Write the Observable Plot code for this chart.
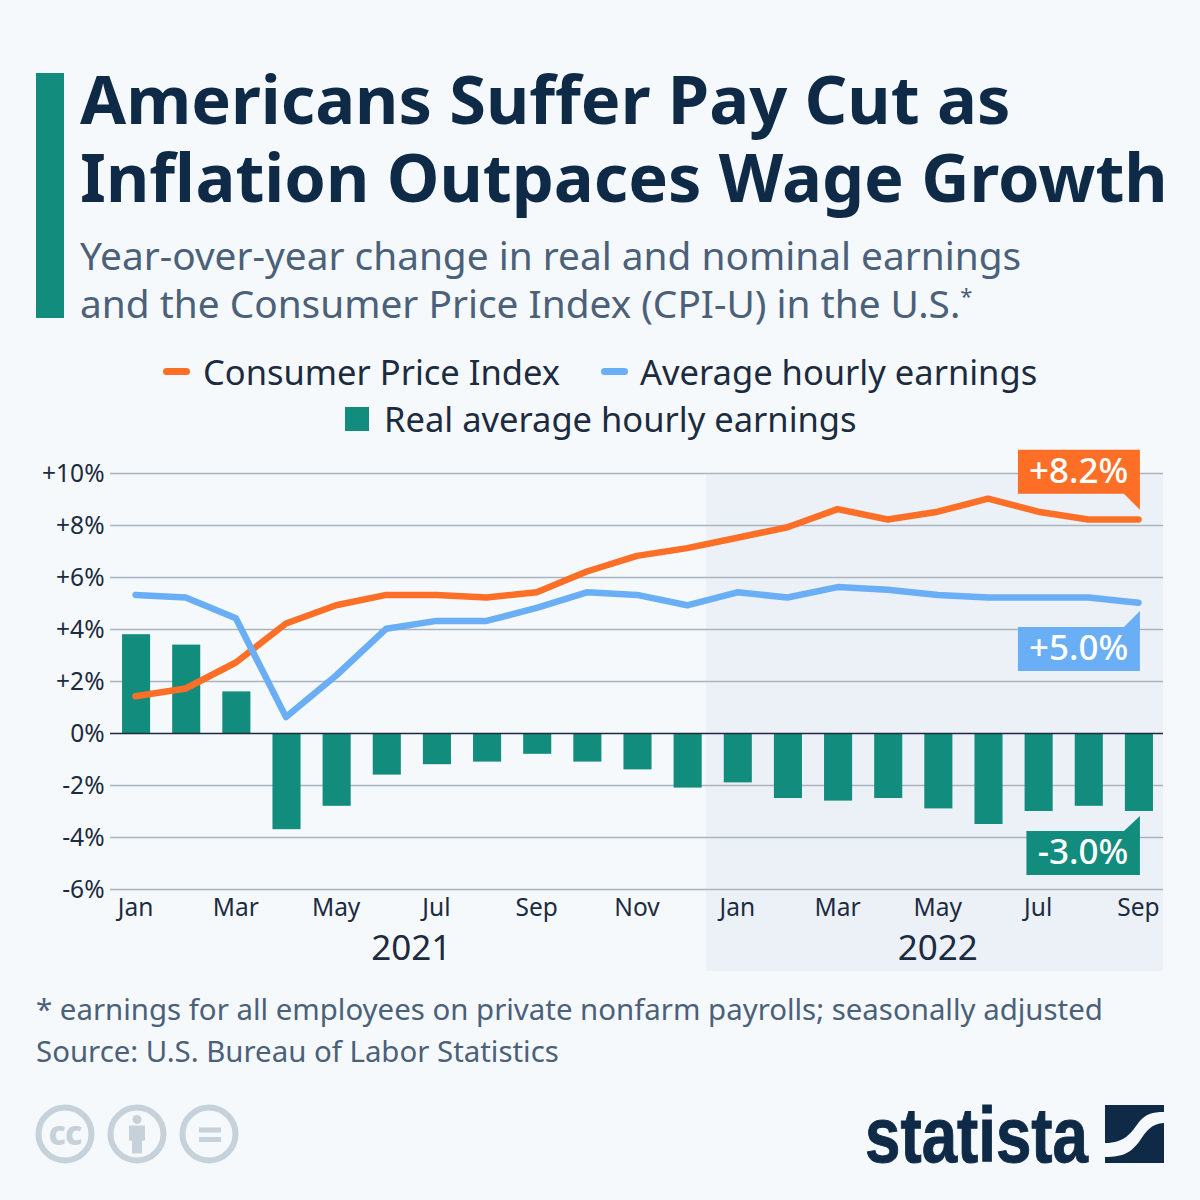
<!DOCTYPE html>
<html>
<head>
<meta charset="utf-8">
<script src="https://cdn.jsdelivr.net/npm/d3@7"></script>
<script src="https://cdn.jsdelivr.net/npm/@observablehq/plot@0.6"></script>
<style>
  html, body { margin: 0; padding: 0; background: #f5f9fc; }
  body { width: 1200px; height: 1200px; position: relative; overflow: hidden; font-family: "Noto Sans", sans-serif; }
  .abs { position: absolute; white-space: nowrap; }
  #bar { left: 36px; top: 73px; width: 28px; height: 245px; background: #128c7d; }
  .title { left: 80px; top: 60px; font-weight: 700; font-size: 66.7px; line-height: 78px; color: #0f2a47; }
  .sub { left: 80px; top: 231px; font-size: 38.8px; line-height: 48px; color: #4b6079; }
  .sub sup { font-size: 22px; line-height: 0; vertical-align: 14px; }
  .leg { font-size: 34.5px; line-height: 46px; color: #1c2b3f; }
  .sw { position: absolute; }
  .foot { left: 36px; top: 988px; font-size: 29.4px; line-height: 42px; color: #4b6079; }
  #chart { position: absolute; left: 0; top: 440px; }
  #chart svg { display: block; }
  #badges { position: absolute; left: 0; top: 0; overflow: visible; }
</style>
</head>
<body>
<div id="bar" class="abs"></div>
<div class="abs title">Americans Suffer Pay Cut as<br>Inflation Outpaces Wage Growth</div>
<div class="abs sub">Year-over-year change in real and nominal earnings<br>and the Consumer Price Index (CPI-U) in the U.S.<sup>*</sup></div>

<div class="sw" style="left:163px;top:368px;width:27px;height:7px;border-radius:3.5px;background:#fd6f26"></div>
<div class="abs leg" style="left:203px;top:349px">Consumer Price Index</div>
<div class="sw" style="left:601px;top:368px;width:27px;height:7px;border-radius:3.5px;background:#6aaef5"></div>
<div class="abs leg" style="left:640px;top:349px">Average hourly earnings</div>
<div class="sw" style="left:345px;top:407px;width:24px;height:24px;background:#128c7d"></div>
<div class="abs leg" style="left:384px;top:396px">Real average hourly earnings</div>

<div id="chart"></div>

<div class="abs foot">* earnings for all employees on private nonfarm payrolls; seasonally adjusted<br>Source: U.S. Bureau of Labor Statistics</div>

<svg id="badges" width="1200" height="1200">
  <g fill="none" stroke="#c6d1d9" stroke-width="6">
    <circle cx="65" cy="1134" r="26.5"/><circle cx="137" cy="1134" r="26.5"/><circle cx="209" cy="1134" r="26.5"/>
  </g>
  <text x="65" y="1145" text-anchor="middle" font-family="Noto Sans" font-weight="800" font-size="33" letter-spacing="-1" fill="#c6d1d9">cc</text>
  <g fill="#c6d1d9">
    <circle cx="137" cy="1119.5" r="4.5"/>
    <path d="M129,1125.5h16v15h-3v13h-10v-13h-3z"/>
    <rect x="199" y="1127.5" width="22" height="5"/><rect x="199" y="1137" width="22" height="5"/>
  </g>
  <text x="865" y="1162" font-family="Liberation Sans" font-weight="700" font-size="78" textLength="223" lengthAdjust="spacingAndGlyphs" fill="#0f2a47" stroke="#0f2a47" stroke-width="1">statista</text>
  <path fill="#0f2a47" d="M1105,1105H1164V1112C1152,1112 1146,1114 1139,1122C1131,1133 1125,1143 1105,1143Z"/>
  <path fill="#0f2a47" d="M1164,1123V1163H1105V1157C1124,1157 1131,1152 1139,1142C1147,1130 1151,1124 1164,1123Z"/>
</svg>

<script>
const months = ["2021-01","2021-02","2021-03","2021-04","2021-05","2021-06","2021-07","2021-08","2021-09","2021-10","2021-11","2021-12","2022-01","2022-02","2022-03","2022-04","2022-05","2022-06","2022-07","2022-08","2022-09"];
const monthNames = ["Jan","Feb","Mar","Apr","May","Jun","Jul","Aug","Sep","Oct","Nov","Dec"];
const cpi = [1.4,1.7,2.7,4.2,4.9,5.3,5.3,5.2,5.4,6.2,6.8,7.1,7.5,7.9,8.6,8.2,8.5,9.0,8.5,8.2,8.2];
const hourly = [5.3,5.2,4.4,0.6,2.2,4.0,4.3,4.3,4.8,5.4,5.3,4.9,5.4,5.2,5.6,5.5,5.3,5.2,5.2,5.2,5.0];
const real = [3.8,3.4,1.6,-3.7,-2.8,-1.6,-1.2,-1.1,-0.8,-1.1,-1.4,-2.1,-1.9,-2.5,-2.6,-2.5,-2.9,-3.5,-3.0,-2.8,-3.0];
const yTicks = [-6,-4,-2,0,2,4,6,8,10];
const xTicks = months.filter((m, i) => i % 2 === 0);

const ORANGE = "#fd6f26", BLUE = "#6aaef5", GREEN = "#128c7d", INK = "#1c2b3f";
const rows = months.map((m, i) => ({m, cpi: cpi[i], hourly: hourly[i], real: real[i]}));
const last = rows[rows.length - 1];
const fmt = v => (v > 0 ? "+" : "") + v + "%";
const fmt1 = v => (v > 0 ? "+" : "") + v.toFixed(1) + "%";

// Callout boxes anchored to the last data point of each series
const callouts = [
  {v: last.cpi, fill: ORANGE, w: 122, top: -70, bottom: -26, tip: -10},
  {v: last.hourly, fill: BLUE, w: 122, top: 24, bottom: 68, tip: 8},
  {v: last.real, fill: GREEN, w: 113.5, top: 20, bottom: 64, tip: 5}
];
function calloutMark(index, scales) {
  const g = d3.create("svg:g");
  const b = scales.x.bandwidth;
  const bw = typeof b === "function" ? b() : (b || 0);
  const r = scales.x(last.m) + bw / 2 + 2;
  for (const c of callouts) {
    const y = scales.y(c.v);
    const p = c.tip > c.bottom
      ? [[r - c.w, y + c.top], [r, y + c.top], [r, y + c.tip], [r - 16, y + c.bottom], [r - c.w, y + c.bottom]]
      : [[r - c.w, y + c.top], [r - 16, y + c.top], [r, y + c.tip], [r, y + c.bottom], [r - c.w, y + c.bottom]];
    g.append("path").attr("d", "M" + p.join("L") + "Z").attr("fill", c.fill);
  }
  return g.node();
}
const calloutLabel = (c, dy) => Plot.text([c], {x: () => last.m, y: "v", text: d => fmt1(d.v), dx: -10, dy, textAnchor: "end", fill: "#fff", fontSize: 35, fontWeight: 500});

const plot = Plot.plot({
  width: 1200,
  height: 540,
  marginTop: 33,
  marginBottom: 91,
  marginLeft: 110,
  marginRight: 37,
  style: {background: "transparent", fontFamily: "'Noto Sans', sans-serif", fontSize: "24px", color: INK, overflow: "visible"},
  x: {type: "band", domain: months, paddingInner: 0.44, paddingOuter: 0.22, round: false, label: null},
  y: {domain: [-6, 10], label: null},
  marks: [
    Plot.rect([0], {x1: () => "2022-01", x2: () => "2022-09", y1: () => 10, y2: () => -9.15, fill: "#ecf1f8", insetLeft: -16.7, insetRight: -10.9}),
    Plot.ruleY(yTicks.filter(d => d !== 0), {stroke: "#aab4bf", strokeWidth: 1.6, strokeOpacity: 1}),
    Plot.barY(rows, {x: "m", y: "real", fill: GREEN, dx: 1}),
    Plot.ruleY([0], {stroke: INK, strokeWidth: 1.6}),
    Plot.line(rows, {x: "m", y: "cpi", stroke: ORANGE, strokeWidth: 6.5, strokeLinecap: "round", strokeLinejoin: "round", dy: -0.8}),
    Plot.line(rows, {x: "m", y: "hourly", stroke: BLUE, strokeWidth: 6.5, strokeLinecap: "round", strokeLinejoin: "round", dy: -0.8}),
    Plot.axisY({ticks: yTicks, tickFormat: fmt, tickSize: 0, tickPadding: 6, fill: INK, fontSize: 24.5, dy: 1, label: null}),
    Plot.axisX({ticks: xTicks, tickFormat: d => monthNames[+d.slice(5) - 1], tickSize: 0, tickPadding: 9, fill: INK, fontSize: 24.5, label: null}),
    Plot.text(["2021"], {x: () => "2021-06", y: () => -6, text: d => d, dx: 25, dy: 59.5, fill: INK, fontSize: 35}),
    Plot.text(["2022"], {x: () => "2022-05", y: () => -6, text: d => d, dy: 59.5, fill: INK, fontSize: 35}),
    calloutMark,
    calloutLabel(callouts[0], -49),
    calloutLabel(callouts[1], 45),
    calloutLabel(callouts[2], 41)
  ]
});
document.getElementById("chart").append(plot);
</script>
</body>
</html>
